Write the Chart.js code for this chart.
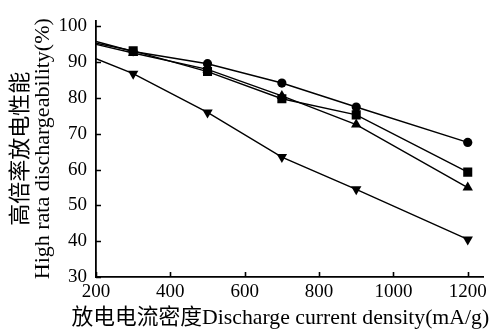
<!DOCTYPE html>
<html>
<head>
<meta charset="utf-8">
<script src="https://cdn.jsdelivr.net/npm/chart.js@4/dist/chart.umd.min.js"></script>
<style>
  html, body { margin: 0; padding: 0; background: #fff; }
  #wrap { width: 491px; height: 331px; position: relative; }
</style>
</head>
<body>
<div id="wrap"><canvas id="c" width="491" height="331"></canvas></div>
<script>
const xValues = [200, 300, 500, 700, 900, 1200];
const circleSeries = [95.8, 93.0, 89.6, 84.2, 77.5, 67.6];
const squareSeries = [95.3, 93.2, 87.4, 79.8, 75.3, 59.3];
const triUpSeries = [95.0, 92.6, 88.0, 80.6, 72.6, 55.0];
const triDownSeries = [91.0, 86.8, 76.0, 63.5, 54.5, 40.5];
const xTicks = [200, 400, 600, 800, 1000, 1200];
const yTicks = [30, 40, 50, 60, 70, 80, 90, 100];
const xTitle = '放电电流密度Discharge current density(mA/g)';
const yTitle = ['高倍率放电性能', 'High rata dischargeability(%)'];

const FONT = "'Liberation Serif', 'Noto Sans CJK SC', serif";

function pts(arr) { return arr.map((v, i) => ({ x: xValues[i], y: v })); }
function radii(r) { return xValues.map((_, i) => i === 0 ? 0 : r); }

function ds(data, style, r, rot) {
  return {
    data: pts(data),
    borderColor: '#000',
    backgroundColor: '#000',
    borderWidth: 1.4,
    pointStyle: style,
    pointRadius: radii(r),
    pointRotation: rot || 0,
    pointBorderWidth: 0,
    pointBackgroundColor: '#000',
    tension: 0,
    fill: false
  };
}

const inwardTicks = {
  id: 'inwardTicks',
  afterDatasetsDraw(chart) {
    const ctx = chart.ctx;
    const xs = chart.scales.x, ys = chart.scales.y;
    const a = chart.chartArea;
    ctx.save();
    ctx.strokeStyle = '#000';
    ctx.lineWidth = 1.6;
    ctx.beginPath();
    xTicks.forEach(v => {
      const px = Math.round(xs.getPixelForValue(v)) + 0.5;
      ctx.moveTo(px, a.bottom);
      ctx.lineTo(px, a.bottom - 5);
    });
    yTicks.forEach(v => {
      const py = Math.round(ys.getPixelForValue(v)) + 0.5;
      ctx.moveTo(a.left, py);
      ctx.lineTo(a.left + 5, py);
    });
    ctx.stroke();
    // x-axis title (wider than the plot area, so drawn here without width clamping)
    ctx.fillStyle = '#000';
    ctx.font = "21.75px " + FONT;
    ctx.textAlign = 'center';
    ctx.textBaseline = 'middle';
    ctx.fillText(xTitle, (a.left + a.right) / 2 - 9.5, chart.height - 13);
    ctx.restore();
  }
};

new Chart(document.getElementById('c'), {
  type: 'line',
  data: {
    datasets: [
      ds(triDownSeries, 'triangle', 6, 180),
      ds(circleSeries, 'circle', 4.6),
      ds(triUpSeries, 'triangle', 6),
      ds(squareSeries, 'rect', 6.4)
    ]
  },
  options: {
    responsive: false,
    animation: false,
    devicePixelRatio: 1,
    layout: { padding: { left: 0, right: 6, top: 8, bottom: 0 } },
    plugins: { legend: { display: false }, tooltip: { enabled: false } },
    scales: {
      x: {
        type: 'linear',
        min: 200,
        max: 1243,
        afterBuildTicks(scale) { scale.ticks = xTicks.map(v => ({ value: v })); },
        afterFit(scale) { scale.height = 54; },
        grid: { display: true, drawOnChartArea: false, drawTicks: false },
        border: { display: true, color: '#000', width: 1.8 },
        ticks: {
          color: '#000', font: { family: FONT, size: 19 }, padding: 4, maxRotation: 0,
          callback: (v) => String(v)
        },
        title: { display: false }
      },
      y: {
        type: 'linear',
        min: 30,
        max: 101.7,
        afterBuildTicks(scale) { scale.ticks = yTicks.map(v => ({ value: v })); },
        afterFit(scale) { scale.width = 96; },
        grid: { display: true, drawOnChartArea: false, drawTicks: false },
        border: { display: true, color: '#000', width: 1.8 },
        ticks: {
          color: '#000', font: { family: FONT, size: 19 }, padding: 9,
          callback: (v) => String(v)
        },
        title: {
          display: true, text: yTitle, color: '#000',
          font: { family: FONT, size: 22, lineHeight: 1.0 }, padding: { top: 10, bottom: 0 }
        }
      }
    }
  },
  plugins: [inwardTicks]
});
</script>
</body>
</html>
